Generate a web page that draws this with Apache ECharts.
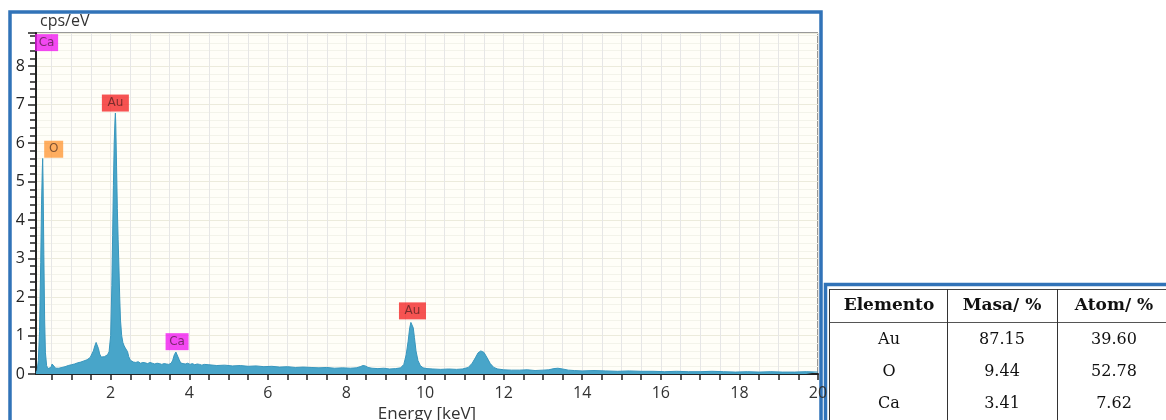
<!DOCTYPE html>
<html>
<head>
<meta charset="utf-8">
<script src="https://cdn.jsdelivr.net/npm/echarts@6/dist/echarts.min.js"></script>
<style>
    html, body { margin: 0; padding: 0; background: #fff; }
    #main { width: 1166px; height: 420px; }
</style>
</head>
<body>
<div id="main"></div>
<script>
'use strict';
// 能谱数据 (keV / cps/eV)
var energyKeV = [
    0.10, 0.13, 0.16, 0.19, 0.22, 0.24, 0.26, 0.27, 0.28, 0.30, 0.32, 0.34, 0.37, 0.40, 0.44, 0.48, 0.51, 0.53, 0.56, 0.60, 0.64, 0.68,
    0.72, 0.76, 0.80, 0.84, 0.88, 0.92, 0.96, 1.00, 1.04, 1.08, 1.12, 1.16, 1.20, 1.24, 1.28, 1.32, 1.36, 1.40, 1.44, 1.48, 1.52, 1.56, 1.60, 1.63, 1.66, 1.69, 1.72, 1.76, 1.80, 1.84, 1.88, 1.92, 1.96,
    2.00, 2.03, 2.05, 2.07, 2.09, 2.11, 2.12, 2.13, 2.15, 2.17, 2.19, 2.21, 2.23, 2.25, 2.28, 2.31, 2.34, 2.37, 2.40, 2.43, 2.46, 2.50, 2.54, 2.58,
    2.64, 2.70, 2.76, 2.82, 2.88, 2.94, 3.00, 3.06, 3.12, 3.18, 3.24, 3.30, 3.36, 3.42, 3.48, 3.54, 3.58, 3.62, 3.66, 3.70, 3.74, 3.78, 3.84, 3.90, 3.96, 4.02, 4.08, 4.14, 4.20, 4.26, 4.32, 4.38,
    4.5, 4.7, 4.9, 5.1, 5.3, 5.5, 5.7, 5.9, 6.1, 6.3, 6.5, 6.7, 6.9, 7.1, 7.3, 7.5, 7.7, 7.9, 8.1,
    8.25, 8.35, 8.42, 8.48, 8.55, 8.65, 8.8, 8.95, 9.1, 9.25, 9.38, 9.46, 9.52, 9.57, 9.61, 9.64, 9.67, 9.70, 9.73, 9.77, 9.82, 9.88, 9.95, 10.05, 10.2,
    10.4, 10.6, 10.8, 10.95, 11.1, 11.2, 11.28, 11.35, 11.42, 11.5, 11.58, 11.66, 11.75, 11.85, 12.0, 12.2,
    12.4, 12.6, 12.8, 13.0, 13.15, 13.28, 13.38, 13.5, 13.65, 13.8, 14.0, 14.3, 14.6, 14.9, 15.2, 15.5, 15.8, 16.1, 16.4, 16.7, 17.0, 17.3, 17.6, 17.9, 18.2, 18.5, 18.8, 19.1, 19.4, 19.7, 20.0
];
var countsCps = [
    0.04, 0.10, 0.35, 1.1, 2.9, 4.4, 5.3, 5.6, 5.0, 3.1, 1.4, 0.55, 0.22, 0.14, 0.13, 0.17, 0.26, 0.31, 0.21, 0.15, 0.13, 0.15,
    0.14, 0.17, 0.16, 0.19, 0.18, 0.22, 0.20, 0.24, 0.22, 0.26, 0.25, 0.29, 0.27, 0.31, 0.30, 0.34, 0.32, 0.37, 0.40, 0.43, 0.48, 0.60, 0.74, 0.82, 0.80, 0.66, 0.52, 0.44, 0.42, 0.45, 0.43, 0.50, 0.58,
    1.0, 2.3, 3.6, 4.9, 6.0, 6.6, 6.78, 6.5, 5.4, 4.3, 3.5, 2.8, 2.0, 1.4, 1.0, 0.82, 0.74, 0.68, 0.70, 0.58, 0.45, 0.36, 0.33, 0.31,
    0.30, 0.32, 0.28, 0.30, 0.29, 0.27, 0.30, 0.28, 0.26, 0.28, 0.27, 0.25, 0.27, 0.26, 0.25, 0.28, 0.36, 0.50, 0.57, 0.52, 0.38, 0.29, 0.27, 0.26, 0.28, 0.25, 0.27, 0.24, 0.26, 0.25, 0.23, 0.25,
    0.24, 0.22, 0.23, 0.21, 0.22, 0.20, 0.21, 0.19, 0.20, 0.18, 0.19, 0.17, 0.18, 0.17, 0.16, 0.17, 0.15, 0.16, 0.15,
    0.16, 0.19, 0.22, 0.21, 0.17, 0.15, 0.14, 0.15, 0.13, 0.14, 0.16, 0.25, 0.50, 0.85, 1.2, 1.34, 1.35, 1.2, 0.95, 0.60, 0.35, 0.22, 0.16, 0.14, 0.13,
    0.12, 0.13, 0.12, 0.13, 0.17, 0.28, 0.42, 0.55, 0.60, 0.56, 0.42, 0.27, 0.17, 0.13, 0.11, 0.10,
    0.10, 0.11, 0.09, 0.10, 0.11, 0.14, 0.15, 0.13, 0.10, 0.09, 0.08, 0.09, 0.08, 0.07, 0.08, 0.07, 0.07, 0.06, 0.07, 0.06, 0.06, 0.07, 0.06, 0.05, 0.06, 0.05, 0.06, 0.05, 0.05, 0.06, 0.05
];

// 元素标注
var peakNames = ['Ca', 'O', 'Au', 'Ca', 'Au'];
var peakEnergy = [0.37, 0.55, 2.12, 3.69, 9.68];
var peakCps = [8.61, 5.84, 7.04, 0.84, 1.64];

// 坐标轴刻度
var xTickValues = [];
for (var t = 0.5; t <= 20; t += 0.5) { xTickValues.push(t); }
var xLabelValues = [2, 4, 6, 8, 10, 12, 14, 16, 18, 20];

// 表格
var tableHeader = ['Elemento', 'Masa/ %', 'Atom/ %'];
var tableElements = ['Au', 'O', 'Ca'];
var tableMasa = ['87.15', '9.44', '3.41'];
var tableAtom = ['39.60', '52.78', '7.62'];

var BLUE = '#3173b8';
var elementColor = { Ca: '#f01cf0', O: '#ff9a3a', Au: '#f42828' };
var elementBoxW = { Ca: 23, O: 19, Au: 27 };

var chart = echarts.init(document.getElementById('main'));

var spectrum = energyKeV.map(function (e, i) { return [e, countsCps[i]]; });
var labelData = peakNames.map(function (n, i) {
    return {
        value: [peakEnergy[i], peakCps[i]],
        name: n,
        symbolSize: [elementBoxW[n], 17],
        itemStyle: { color: elementColor[n] }
    };
});

// 表格图形
var serif = '"DejaVu Serif", "Liberation Serif", serif';
var colX = [889, 1002, 1114];
var rowY = [340, 372, 404];
var tableGraphics = [
    { type: 'rect', shape: { x: 825.5, y: 284.5, width: 400, height: 200 }, style: { fill: '#fff', stroke: BLUE, lineWidth: 3.5 } },
    { type: 'line', shape: { x1: 829, y1: 289.5, x2: 1166, y2: 289.5 }, style: { stroke: '#444', lineWidth: 1.2 } },
    { type: 'line', shape: { x1: 829, y1: 322.5, x2: 1166, y2: 322.5 }, style: { stroke: '#555', lineWidth: 1 } },
    { type: 'line', shape: { x1: 829.5, y1: 289, x2: 829.5, y2: 420 }, style: { stroke: '#333', lineWidth: 1 } },
    { type: 'line', shape: { x1: 947.5, y1: 289, x2: 947.5, y2: 420 }, style: { stroke: '#333', lineWidth: 1 } },
    { type: 'line', shape: { x1: 1057.5, y1: 289, x2: 1057.5, y2: 420 }, style: { stroke: '#333', lineWidth: 1 } }
];
tableHeader.forEach(function (h, i) {
    tableGraphics.push({
        type: 'text', x: colX[i], y: 306,
        style: { text: h, font: 'bold 17px ' + serif, fill: '#111', align: 'center', verticalAlign: 'middle' }
    });
});
[tableElements, tableMasa, tableAtom].forEach(function (col, i) {
    col.forEach(function (v, j) {
        tableGraphics.push({
            type: 'text', x: colX[i], y: rowY[j],
            style: { text: v, font: '16px ' + serif, fill: '#111', align: 'center', verticalAlign: 'middle' }
        });
    });
});

var option = {
    backgroundColor: '#fff',
    animation: false,
    grid: {
        left: 36, top: 33, right: 348, bottom: 46,
        outerBoundsMode: 'none',
        show: true, backgroundColor: '#fffef8', borderColor: '#333', borderWidth: 1
    },
    xAxis: {
        type: 'value',
        min: 0.1,
        max: 20,
        name: 'Energy [keV]',
        nameLocation: 'middle',
        nameGap: 30,
        nameTextStyle: { fontSize: 17, color: '#333', fontFamily: 'Open Sans' },
        axisLine: { onZero: false, lineStyle: { color: '#222', width: 2 } },
        axisTick: { customValues: xTickValues, length: 6, lineStyle: { color: '#222', width: 1.5 } },
        axisLabel: { customValues: xLabelValues, fontSize: 16, color: '#333', margin: 11, fontFamily: 'Open Sans' },
        splitLine: { show: true, lineStyle: { color: '#e6e6e6', width: 1 } }
    },
    yAxis: {
        type: 'value',
        min: 0,
        max: 8.86,
        interval: 1,
        axisLine: { show: true, lineStyle: { color: '#222', width: 2 } },
        axisTick: { show: true, length: 8, lineStyle: { color: '#222', width: 1.5 } },
        minorTick: { show: true, splitNumber: 5, length: 6, lineStyle: { color: '#222', width: 1.5 } },
        axisLabel: {
            fontSize: 16, color: '#222', margin: 11, fontFamily: 'Open Sans',
            formatter: function (v) { return v % 1 === 0 ? String(v) : ''; }
        },
        splitLine: { show: true, lineStyle: { color: '#ecebdc', width: 1 } },
        minorSplitLine: { show: true, lineStyle: { color: '#f3f3ea', width: 1 } }
    },
    series: [{
        name: 'spectrum',
        type: 'line',
        data: spectrum,
        showSymbol: false,
        symbol: 'none',
        lineStyle: { color: '#3896bd', width: 1 },
        areaStyle: { color: '#48a5c9', opacity: 1 },
        z: 2
    }, {
        name: 'labels',
        type: 'scatter',
        symbol: 'rect',
        data: labelData,
        label: {
            show: true, position: 'inside', formatter: '{b}',
            fontSize: 12, color: 'rgba(40,20,20,0.75)', fontFamily: 'DejaVu Sans'
        },
        z: 5
    }],
    graphic: [
        { type: 'text', left: 40, top: 13, style: { text: 'cps/eV', font: '16px "Open Sans"', fill: '#333' } },
        { type: 'rect', shape: { x: 10, y: 12, width: 811, height: 440 }, style: { fill: 'none', stroke: BLUE, lineWidth: 3.5 } }
    ].concat(tableGraphics)
};
chart.setOption(option);
</script>
</body>
</html>
